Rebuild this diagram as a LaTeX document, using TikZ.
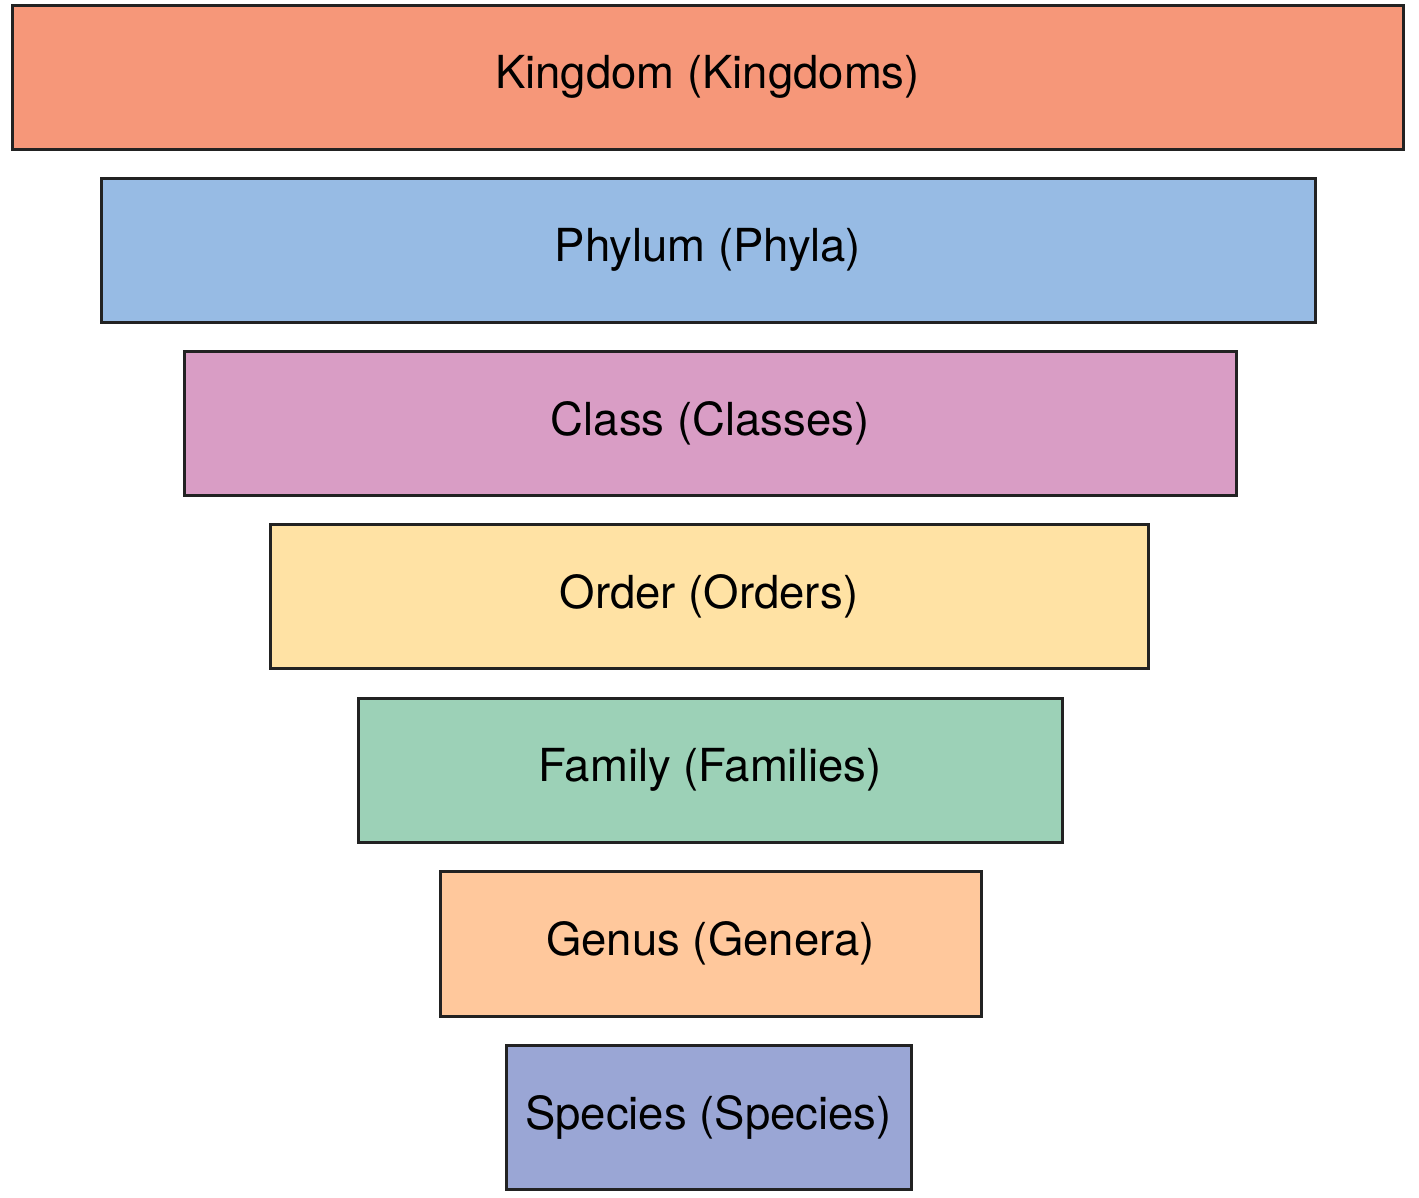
\documentclass[tikz,border=0pt]{standalone}
\usepackage{fontspec}
\setmainfont{TeX Gyre Heros}
\definecolor{cK}{HTML}{F69779}
\definecolor{cP}{HTML}{97BBE4}
\definecolor{cC}{HTML}{D99DC5}
\definecolor{cO}{HTML}{FFE2A4}
\definecolor{cF}{HTML}{9CD1B7}
\definecolor{cG}{HTML}{FFC89C}
\definecolor{cS}{HTML}{9AA6D5}
\definecolor{edge}{HTML}{222222}
\tikzset{tier/.style={draw=edge, line width=3pt, rectangle, inner sep=0pt, font=\fontsize{45.5}{54}\selectfont, text=black}}
\begin{document}
\begin{tikzpicture}[x=1pt,y=-1pt]
\useasboundingbox (0,0) rectangle (1419,1197);
\node[tier, fill=cK, minimum width=1391pt, minimum height=144pt] (kingdom) at (707.5,77) {Kingdom (Kingdoms)};
\node[tier, fill=cP, minimum width=1214pt, minimum height=144pt] (phylum) at (708,250) {Phylum (Phyla)};
\node[tier, fill=cC, minimum width=1052pt, minimum height=144pt] (class) at (710,423) {Class (Classes)};
\node[tier, fill=cO, minimum width=878pt, minimum height=144pt] (order) at (709,596) {Order (Orders)};
\node[tier, fill=cF, minimum width=704pt, minimum height=144pt] (family) at (710,770) {Family (Families)};
\node[tier, fill=cG, minimum width=541pt, minimum height=145pt] (genus) at (710.5,943.5) {Genus (Genera)};
\node[tier, fill=cS, minimum width=405pt, minimum height=144pt] (species) at (708.5,1117) {Species (Species)};
\end{tikzpicture}
\end{document}
